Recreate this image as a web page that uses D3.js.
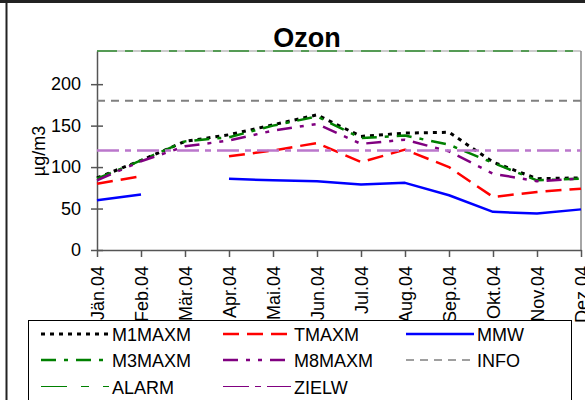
<!DOCTYPE html>
<html>
<head>
<meta charset="utf-8">
<script src="https://cdn.jsdelivr.net/npm/d3@7"></script>
<style>
  html, body { margin: 0; padding: 0; background: #fff; }
  svg { display: block; font-family: "Liberation Sans", Arial, sans-serif; }
</style>
</head>
<body>
<svg id="chart" width="585" height="400"></svg>
<script>
// Monthly ozone statistics 2004
const months = ["Jän.04","Feb.04","Mär.04","Apr.04","Mai.04","Jun.04","Jul.04","Aug.04","Sep.04","Okt.04","Nov.04","Dez.04"];
const M1MAXM = [87,108,131,139,151,163,137,141,142,106,86,87];
const TMAXM  = [80,89,null,113,120,129,106,121,100,64,70,74];
const MMW    = [60,67,null,86,84,83,79,81,66,46,44,49];
const M3MAXM = [86,108,131,136,150,161,135,138,127,105,84,86];
const M8MAXM = [84,107,125,132,144,152,128,133,119,92,83,86];
const INFO  = 180;
const ALARM = 240;
const ZIELW = 120;
const yTicks = [0,50,100,150,200];

const svg = d3.select("#chart");
const plot = {left: 97, right: 581, top: 51, bottom: 250};

const x = d3.scalePoint().domain(months).range([plot.left, plot.right]);
const y = d3.scaleLinear().domain([0, 240]).range([plot.bottom, plot.top]);

// outer frame
svg.append("line").attr("x1",0).attr("x2",585).attr("y1",1.5).attr("y2",1.5)
  .attr("stroke","#222").attr("stroke-width",3);
svg.append("line").attr("x1",6.5).attr("x2",6.5).attr("y1",0).attr("y2",400)
  .attr("stroke","#222").attr("stroke-width",2);

// title
svg.append("text").attr("x",307).attr("y",47).attr("text-anchor","middle")
  .attr("font-size",27).attr("font-weight","bold").text("Ozon");

// plot area border
svg.append("line").attr("x1",plot.left).attr("x2",plot.right).attr("y1",plot.top).attr("y2",plot.top)
  .attr("stroke","#bbb").attr("stroke-width",1.5);
svg.append("line").attr("x1",plot.right).attr("x2",plot.right).attr("y1",plot.top).attr("y2",plot.bottom)
  .attr("stroke","#888").attr("stroke-width",1.5);

// y axis
const yAxis = d3.axisLeft(y).tickValues(yTicks).tickSize(0).tickPadding(16);
const gy = svg.append("g").attr("transform",`translate(${plot.left},0)`).call(yAxis);
gy.select(".domain").attr("stroke","#555").attr("stroke-width",1.5);
gy.selectAll(".tick text").attr("font-size",18).attr("font-family","Liberation Sans, Arial, sans-serif").attr("fill","#000");
gy.selectAll(".tick").append("line").attr("x1",-6).attr("x2",6).attr("stroke","#555").attr("stroke-width",1.5);

// x axis
const xAxis = d3.axisBottom(x).tickSize(7).tickSizeOuter(0).tickPadding(0);
const gx = svg.append("g").attr("transform",`translate(0,${plot.bottom})`).call(xAxis);
gx.select(".domain").attr("stroke","#555").attr("stroke-width",1.5);
gx.selectAll(".tick line").attr("stroke","#555").attr("stroke-width",1.5);
gx.selectAll(".tick text")
  .attr("font-size",18).attr("font-family","Liberation Sans, Arial, sans-serif").attr("fill","#000")
  .attr("text-anchor","end")
  .attr("transform","translate(0,16) rotate(-90)")
  .attr("x",0).attr("y",0).attr("dy","0.35em");

// y axis title
svg.append("text").attr("transform","translate(45,151) rotate(-90)")
  .attr("text-anchor","middle").attr("font-size",18).text("µg/m3");

// series
const series = [
  {name:"M1MAXM", values:M1MAXM, color:"#000000", width:3,   dash:"4,5"},
  {name:"TMAXM",  values:TMAXM,  color:"#ff0000", width:2.5, dash:"16,8"},
  {name:"MMW",    values:MMW,    color:"#0000ff", width:2.5, dash:null},
  {name:"M3MAXM", values:M3MAXM, color:"#008000", width:2.5, dash:"15,8,4,8"},
  {name:"M8MAXM", values:M8MAXM, color:"#800080", width:2.5, dash:"15,8,4,8,4,8"}
];

const line = d3.line()
  .defined(d => d.v !== null)
  .x(d => x(d.m))
  .y(d => y(d.v));

series.forEach(s => {
  svg.append("path")
    .datum(months.map((m,i) => ({m, v: s.values[i]})))
    .attr("d", line)
    .attr("fill","none")
    .attr("stroke", s.color)
    .attr("stroke-width", s.width)
    .attr("stroke-dasharray", s.dash)
    .attr("stroke-linejoin","round");
});

// limit lines
const limits = [
  {name:"INFO",  value:INFO,  color:"#808080", width:2,   dash:"8,6"},
  {name:"ALARM", value:ALARM, color:"#2e8b2e", width:1.5, dash:"20,8,8,8"},
  {name:"ZIELW", value:ZIELW, color:"#bb77cc", width:2.5, dash:"22,6,6,6"}
];
limits.forEach(l => {
  svg.append("line")
    .attr("x1", x(months[0])).attr("x2", x(months[months.length-1]))
    .attr("y1", y(l.value)).attr("y2", y(l.value))
    .attr("stroke", l.color).attr("stroke-width", l.width)
    .attr("stroke-dasharray", l.dash);
});

// legend
const lg = svg.append("g");
lg.append("rect").attr("x",28.5).attr("y",320.5).attr("width",543).attr("height",80)
  .attr("fill","#fff").attr("stroke","#000").attr("stroke-width",1);

const legendItems = [
  {name:"M1MAXM", color:"#000000", width:3,   dash:"4,5"},
  {name:"TMAXM",  color:"#ff0000", width:2.5, dash:"16,8"},
  {name:"MMW",    color:"#0000ff", width:2.5, dash:null},
  {name:"M3MAXM", color:"#008000", width:2.5, dash:"15,8,4,8"},
  {name:"M8MAXM", color:"#800080", width:2.5, dash:"15,8,4,8,4,8"},
  {name:"INFO",   color:"#808080", width:1.5, dash:"8,6"},
  {name:"ALARM",  color:"#008000", width:1,   dash:"26,14,8,14"},
  {name:"ZIELW",  color:"#800080", width:1,   dash:"26,6,6,6"}
];
const colX = [41, 223, 406];
const rowY = [334, 360, 386.5];
legendItems.forEach((it, i) => {
  const cx = colX[i % 3], cy = rowY[Math.floor(i / 3)];
  lg.append("line").attr("x1",cx).attr("x2",cx + 68).attr("y1",cy).attr("y2",cy)
    .attr("stroke",it.color).attr("stroke-width",it.width).attr("stroke-dasharray",it.dash);
  lg.append("text").attr("x",cx + 71).attr("y",cy + 7).attr("font-size",18).text(it.name);
});
</script>
</body>
</html>
